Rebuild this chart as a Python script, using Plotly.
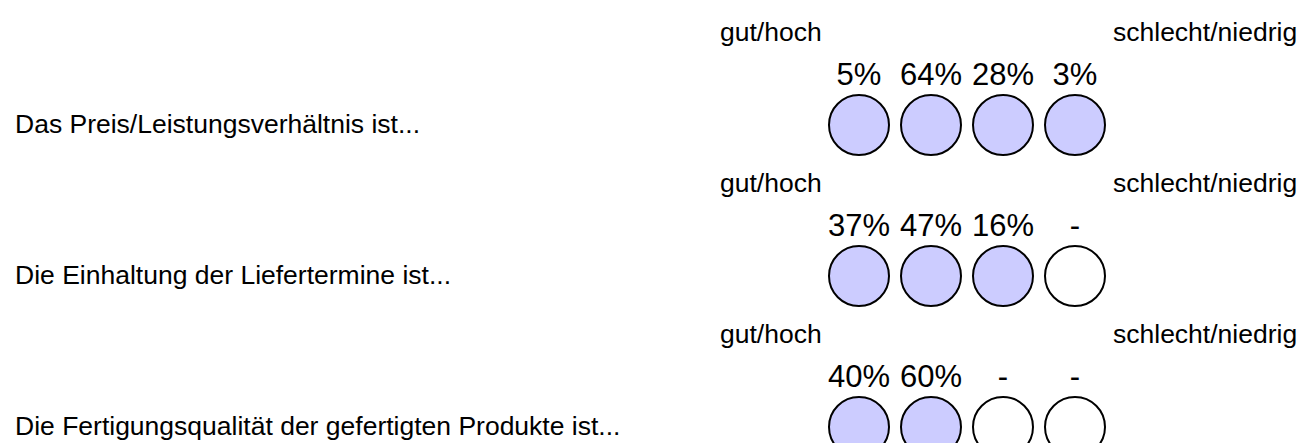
import plotly.graph_objects as go

# ---- data ----
questions = [
    "Das Preis/Leistungsverhältnis ist...",
    "Die Einhaltung der Liefertermine ist...",
    "Die Fertigungsqualität der gefertigten Produkte ist...",
]
scale_low = "gut/hoch"
scale_high = "schlecht/niedrig"
row1 = [5, 64, 28, 3]
row2 = [37, 47, 16, 0]
row3 = [40, 60, 0, 0]
values = [row1, row2, row3]

# ---- layout constants ----
W, H = 1306, 443
X0, DX = 851, 72          # first circle centre, spacing
Y0, DY = 117, 151         # first row centre, row spacing
PCT_OFF = 48              # percent label above circle centre
SCALE_OFF = 93            # scale labels above circle centre
FONT = "Liberation Sans, Arial, sans-serif"
FILL = "#CCCCFF"

fig = go.Figure()
annotations = []
for r, (q, vals) in enumerate(zip(questions, values)):
    yc = Y0 + r * DY
    xs = [X0 + i * DX for i in range(len(vals))]
    ys = [yc] * len(vals)
    fig.add_trace(go.Scatter(
        x=xs, y=ys, mode="markers",
        marker=dict(size=60, color=[FILL if v > 0 else "white" for v in vals],
                    line=dict(color="black", width=2)),
        hoverinfo="skip", showlegend=False,
    ))
    fig.add_trace(go.Scatter(
        x=xs, y=[yc - PCT_OFF] * len(vals), mode="text",
        text=[f"{v}%" if v > 0 else "-" for v in vals],
        textposition="middle center",
        textfont=dict(family=FONT, size=31, color="black"),
        hoverinfo="skip", showlegend=False,
    ))
    annotations.append(dict(x=5, y=yc - 1, xref="x", yref="y", text=q, showarrow=False,
                            xanchor="left", yanchor="middle",
                            font=dict(family=FONT, size=26.5, color="black")))
    annotations.append(dict(x=710, y=yc - SCALE_OFF, xref="x", yref="y", text=scale_low,
                            showarrow=False, xanchor="left", yanchor="middle",
                            font=dict(family=FONT, size=26.5, color="black")))
    annotations.append(dict(x=1291, y=yc - SCALE_OFF, xref="x", yref="y", text=scale_high,
                            showarrow=False, xanchor="right", yanchor="middle",
                            font=dict(family=FONT, size=26.5, color="black")))

fig.update_layout(
    width=W, height=H,
    margin=dict(l=0, r=0, t=0, b=0),
    paper_bgcolor="white", plot_bgcolor="white",
    xaxis=dict(range=[0, W], visible=False, fixedrange=True),
    yaxis=dict(range=[H, 0], visible=False, fixedrange=True),
    annotations=annotations,
)
fig.write_html("out.html")
